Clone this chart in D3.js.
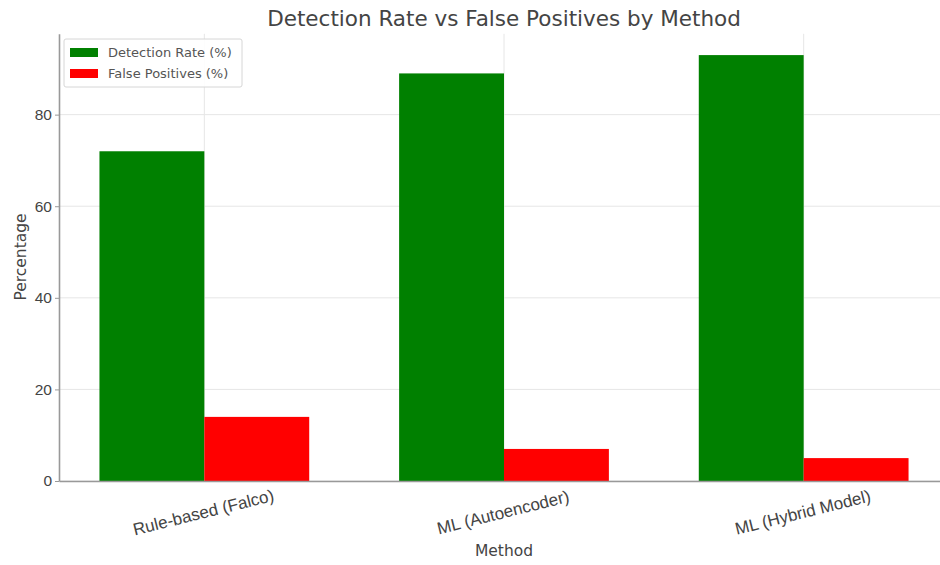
<!DOCTYPE html>
<html>
<head>
<meta charset="utf-8">
<script src="https://cdn.jsdelivr.net/npm/d3@7"></script>
<style>
  html, body { margin: 0; padding: 0; background: #fff; }
  svg { display: block; font-family: "DejaVu Sans", sans-serif; }
</style>
</head>
<body>
<svg id="chart" width="940" height="565"></svg>
<script>
// Methods compared and their scores (percent)
const methods = ["Rule-based (Falco)", "ML (Autoencoder)", "ML (Hybrid Model)"];
const detectionRate = [72, 89, 93];
const falsePositives = [14, 7, 5];
const yTicks = [0, 20, 40, 60, 80];
const seriesNames = ["Detection Rate (%)", "False Positives (%)"];
const seriesColors = ["#008000", "#ff0000"];

const barWidth = 0.35;
const svg = d3.select("#chart");

// Axis extents follow the usual 5% padding around the data
const xMin = -barWidth - 0.05 * (methods.length - 1 + 2 * barWidth);
const xMax = methods.length - 1 + barWidth + 0.05 * (methods.length - 1 + 2 * barWidth);
const yMax = d3.max(detectionRate.concat(falsePositives)) * 1.05;

const x = d3.scaleLinear().domain([xMin, xMax]).range([59, 949]);
const y = d3.scaleLinear().domain([0, yMax]).range([481, 33.8]);

const plot = svg.append("g");

// Grid lines
plot.append("g").selectAll("line.h").data(yTicks).join("line")
  .attr("x1", x(xMin)).attr("x2", x(xMax))
  .attr("y1", d => y(d)).attr("y2", d => y(d))
  .attr("stroke", "#e6e6e6").attr("stroke-width", 1);
plot.append("g").selectAll("line.v").data(methods.map((_, i) => i)).join("line")
  .attr("x1", d => x(d)).attr("x2", d => x(d))
  .attr("y1", y(0)).attr("y2", y(yMax))
  .attr("stroke", "#e6e6e6").attr("stroke-width", 1);

// Bars
const series = [detectionRate, falsePositives];
series.forEach((vals, s) => {
  plot.append("g").selectAll("rect").data(vals).join("rect")
    .attr("x", (d, i) => x(i - barWidth + s * barWidth))
    .attr("width", x(barWidth) - x(0))
    .attr("y", d => y(d))
    .attr("height", d => y(0) - y(d))
    .attr("fill", seriesColors[s]);
});

// Y axis
const yAxis = svg.append("g")
  .attr("transform", `translate(${x(xMin)},0)`)
  .call(d3.axisLeft(y).tickValues(yTicks).tickSize(4).tickPadding(3).tickSizeOuter(0));
yAxis.select(".domain").attr("stroke", "#999").attr("stroke-width", 1.6);
yAxis.selectAll(".tick line").attr("stroke", "#999");
yAxis.selectAll(".tick text").attr("fill", "#444").style("font-size", "15.5px");

// X axis
const xAxis = svg.append("g")
  .attr("transform", `translate(0,${y(0)})`)
  .call(d3.axisBottom(x).tickValues(methods.map((_, i) => i))
    .tickFormat(i => methods[i]).tickSize(0).tickSizeOuter(0));
xAxis.select(".domain").attr("stroke", "#999").attr("stroke-width", 1.6);
xAxis.selectAll(".tick text")
  .attr("fill", "#444")
  .style("font-size", "17px")
  .attr("text-anchor", "middle")
  .attr("dy", null)
  .attr("y", 0)
  .attr("transform", "translate(0,37) rotate(-14)");

// Titles
svg.append("text")
  .attr("x", (x(xMin) + x(xMax)) / 2).attr("y", 26)
  .attr("text-anchor", "middle")
  .attr("fill", "#444")
  .style("font-size", "21.5px")
  .text("Detection Rate vs False Positives by Method");

svg.append("text")
  .attr("x", (x(xMin) + x(xMax)) / 2).attr("y", 556)
  .attr("text-anchor", "middle")
  .attr("fill", "#444")
  .style("font-size", "15.5px")
  .text("Method");

svg.append("text")
  .attr("transform", `translate(26,257) rotate(-90)`)
  .attr("text-anchor", "middle")
  .attr("fill", "#444")
  .style("font-size", "15.5px")
  .text("Percentage");

// Legend
const legend = svg.append("g").attr("transform", "translate(64,39)");
legend.append("rect")
  .attr("width", 178).attr("height", 48).attr("rx", 2)
  .attr("fill", "#fff").attr("fill-opacity", 0.9)
  .attr("stroke", "#d6d6d6");
seriesNames.forEach((name, s) => {
  const row = legend.append("g").attr("transform", `translate(6,${13 + s * 21})`);
  row.append("rect").attr("x", 0).attr("y", -4).attr("width", 28).attr("height", 9)
    .attr("fill", seriesColors[s]);
  row.append("text").attr("x", 38).attr("y", 4.5)
    .attr("fill", "#555").style("font-size", "13px")
    .text(name);
});
</script>
</body>
</html>
